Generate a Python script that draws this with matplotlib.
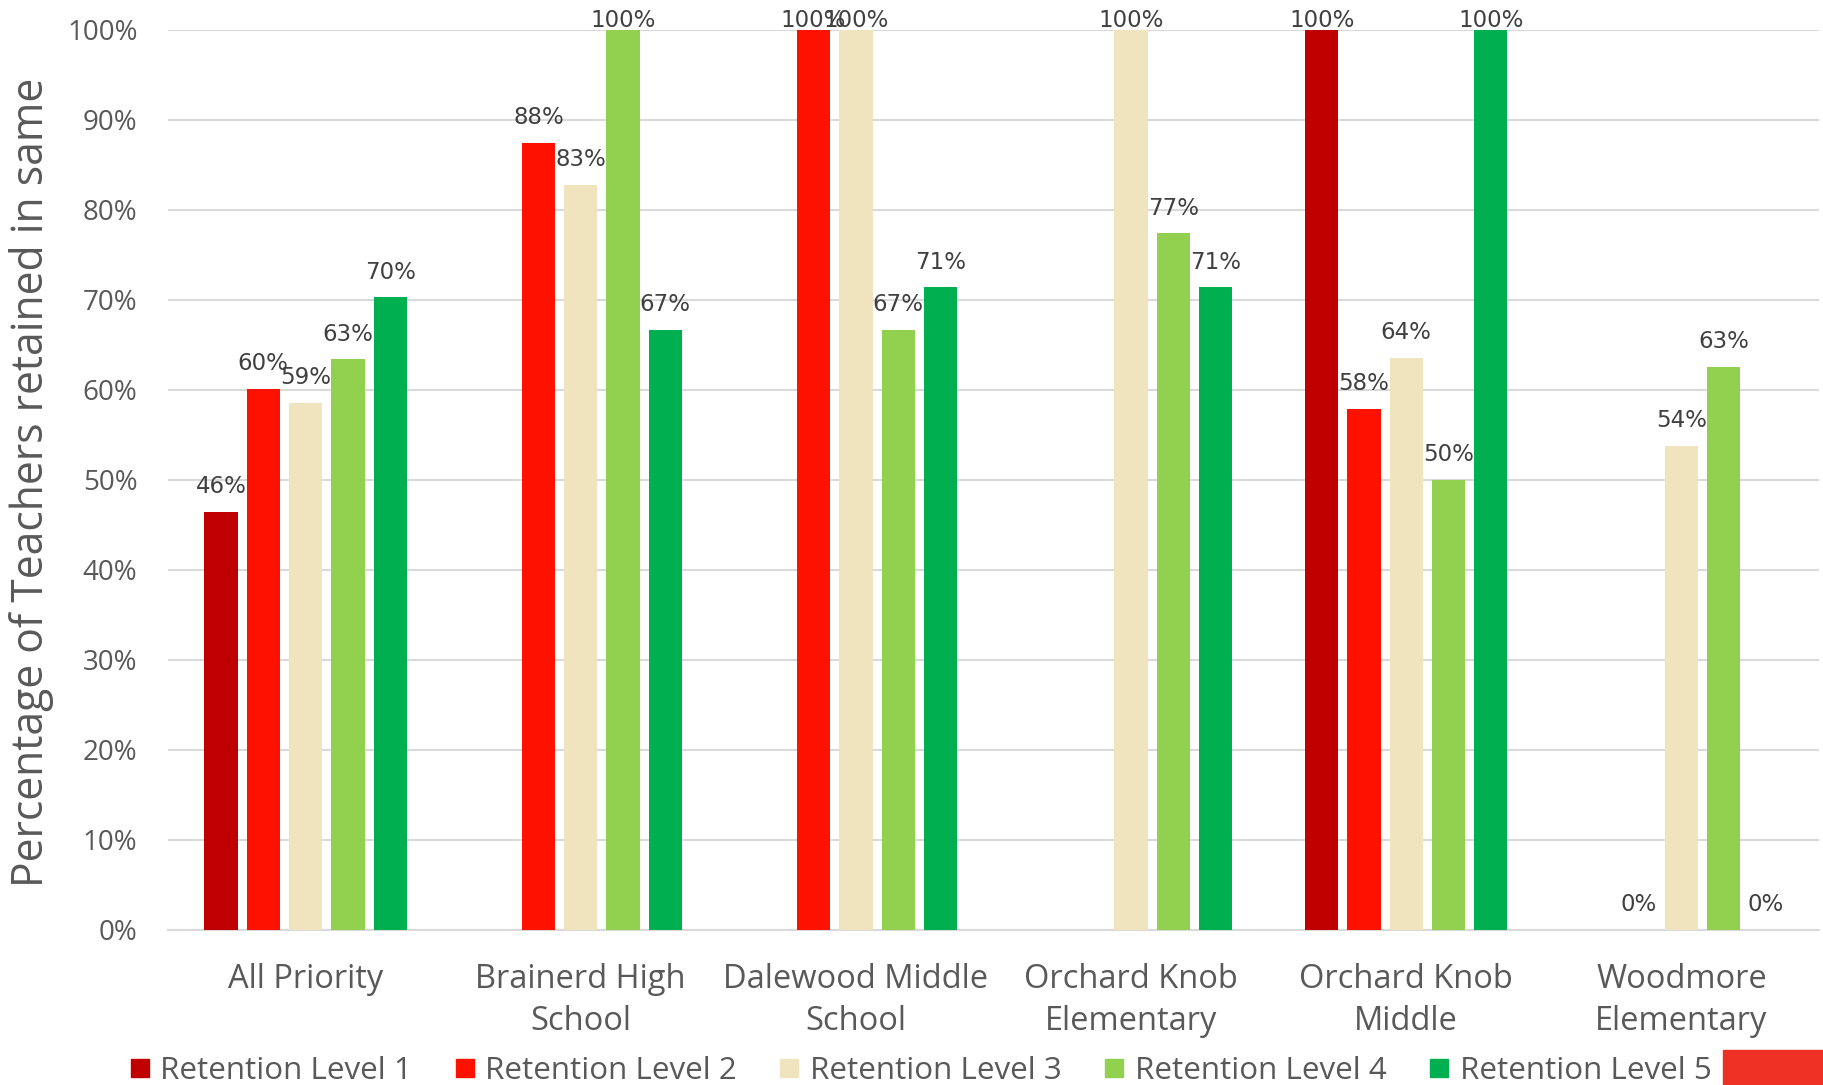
import numpy as np
import matplotlib.pyplot as plt
from matplotlib.lines import Line2D
from matplotlib.patches import Rectangle

# chart data (percent retained), NaN = no bar
categories = ["All Priority", "Brainerd High\nSchool", "Dalewood Middle\nSchool",
              "Orchard Knob\nElementary", "Orchard Knob\nMiddle", "Woodmore\nElementary"]
series_names = ["Retention Level 1", "Retention Level 2", "Retention Level 3",
                "Retention Level 4", "Retention Level 5"]
level1 = [46.5, np.nan, np.nan, np.nan, 100, np.nan]
level2 = [60.1, 87.5, 100, np.nan, 57.9, 0]
level3 = [58.6, 82.8, 100, 100, 63.6, 53.8]
level4 = [63.4, 100, 66.7, 77.4, 50, 62.6]
level5 = [70.3, 66.7, 71.4, 71.4, 100, 0]
y_ticks = [0, 10, 20, 30, 40, 50, 60, 70, 80, 90, 100]

colors = ['#C00000', '#FF1100', '#F0E4BF', '#92D050', '#00B050']
all_series = [level1, level2, level3, level4, level5]

W, H = 1824, 1085
fig = plt.figure(figsize=(W / 100, H / 100), dpi=100)
ax = fig.add_axes([168 / W, 1 - 930 / H, (1819 - 168) / W, 900 / H])

txt_color = '#595959'
lab_color = '#404040'
x = np.arange(len(categories))
pitch = 0.1537
width = 0.121

for i, (vals, col) in enumerate(zip(all_series, colors)):
    pos = x + (i - 2) * pitch
    vals = np.array(vals, dtype=float)
    ax.bar(pos, vals, width=width, color=col, zorder=3)
    for p, v in zip(pos, vals):
        if np.isnan(v):
            continue
        # labels on full bars get pushed down to stay inside the chart
        off = 2 if v >= 99 else 13.5
        ax.annotate(f"{v:.0f}%", (p, v), xytext=(0, off), textcoords='offset points',
                    ha='center', va='baseline', fontsize=16.5, color=lab_color,
                    family='DejaVu Sans', zorder=4, annotation_clip=False)

ax.set_xlim(-0.5, len(categories) - 0.5)
ax.set_ylim(0, 100)
ax.set_yticks(y_ticks)
ax.set_yticklabels([f"{t}%" for t in y_ticks], fontsize=20, color=txt_color, family='Open Sans')
ax.set_xticks(x)
ax.set_xticklabels(categories, fontsize=23.5, color=txt_color, family='Open Sans', linespacing=1.33)
ax.tick_params(axis='both', length=0)
ax.tick_params(axis='y', pad=22)
ax.tick_params(axis='x', pad=24)
ax.grid(axis='y', color='#D9D9D9', linewidth=1.5, zorder=0)
for s in ['top', 'right', 'left']:
    ax.spines[s].set_visible(False)
ax.spines['bottom'].set_color('#D9D9D9')
ax.spines['bottom'].set_linewidth(1.5)

fig.text(32 / W, 1 - 482 / H, "Percentage of Teachers retained in same", rotation=90,
         ha='center', va='center', fontsize=30.7, color=txt_color, family='Open Sans')

handles = [Line2D([], [], marker='s', linestyle='none', markersize=13.5, color=c) for c in colors]
fig.legend(handles, series_names, loc='center left', bbox_to_anchor=(127 / W, 1 - 1071 / H),
           ncol=5, frameon=False, labelcolor=txt_color,
           prop={'family': 'Open Sans', 'size': 22.6},
           handlelength=0.8, handletextpad=0.25, columnspacing=1.28, borderpad=0, borderaxespad=0)

fig.patches.append(Rectangle((1723 / W, 0), (W - 1723) / W, 35 / H, transform=fig.transFigure,
                             color='#EE3124', zorder=5))

fig.savefig('out.png', dpi=100)
